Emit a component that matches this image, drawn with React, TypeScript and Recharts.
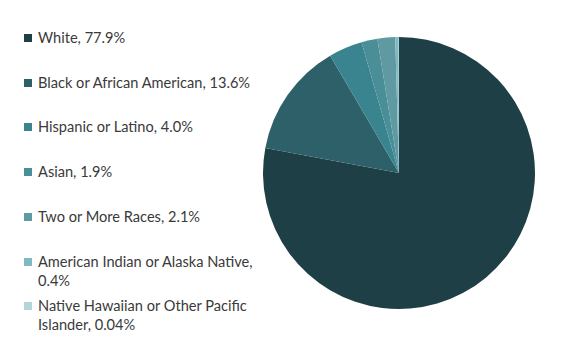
import { PieChart, Pie, Cell, Legend } from "recharts";

const groups = [
  "White",
  "Black or African American",
  "Hispanic or Latino",
  "Asian",
  "Two or More Races",
  "American Indian or Alaska Native",
  "Native Hawaiian or Other Pacific Islander",
];
const shares = [77.9, 13.6, 4.0, 1.9, 2.1, 0.4, 0.04];
const colors = ["#1f3f47", "#2d6069", "#3a8490", "#4a8e98", "#5f9aa2", "#80b9c1", "#b3d5da"];

const fmt = (v: number) => (v < 0.1 ? v.toFixed(2) : v.toFixed(1)) + "%";

const rows = groups.map((g, i) => ({ name: g, value: shares[i], label: `${g}, ${fmt(shares[i])}` }));

// legend keeps the data order (recharts 3 sorts the payload on its own)
const LegendBox = () => (
  <div style={{ position: "relative", width: 260, height: 340 }}>
    {rows.map((r, i) => (
      <div
        key={r.name}
        style={{
          position: "absolute",
          left: 24,
          top: 28 + i * 44.7,
          width: 236,
          fontFamily: "Lato, sans-serif",
          fontSize: 14.6,
          lineHeight: "19px",
          color: "#3a3a3a",
        }}
      >
        <span
          style={{
            position: "absolute",
            left: 0,
            top: 6,
            width: 8,
            height: 8,
            background: colors[i],
          }}
        />
        <div style={{ marginLeft: 14 }}>{r.label}</div>
      </div>
    ))}
  </div>
);

export default function App() {
  return (
    <div style={{ position: "absolute", left: 0, top: 0, background: "#fff" }}>
      <PieChart width={562} height={351}>
        <Pie
          data={rows}
          dataKey="value"
          nameKey="name"
          cx={394}
          cy={168}
          outerRadius={136}
          startAngle={90}
          endAngle={-270}
          stroke="none"
          isAnimationActive={false}
        >
          {rows.map((r, i) => (
            <Cell key={r.name} fill={colors[i]} />
          ))}
        </Pie>
        <Legend
          content={<LegendBox />}
          wrapperStyle={{ position: "absolute", left: 0, top: 0, width: 270, height: 351 }}
        />
      </PieChart>
    </div>
  );
}
